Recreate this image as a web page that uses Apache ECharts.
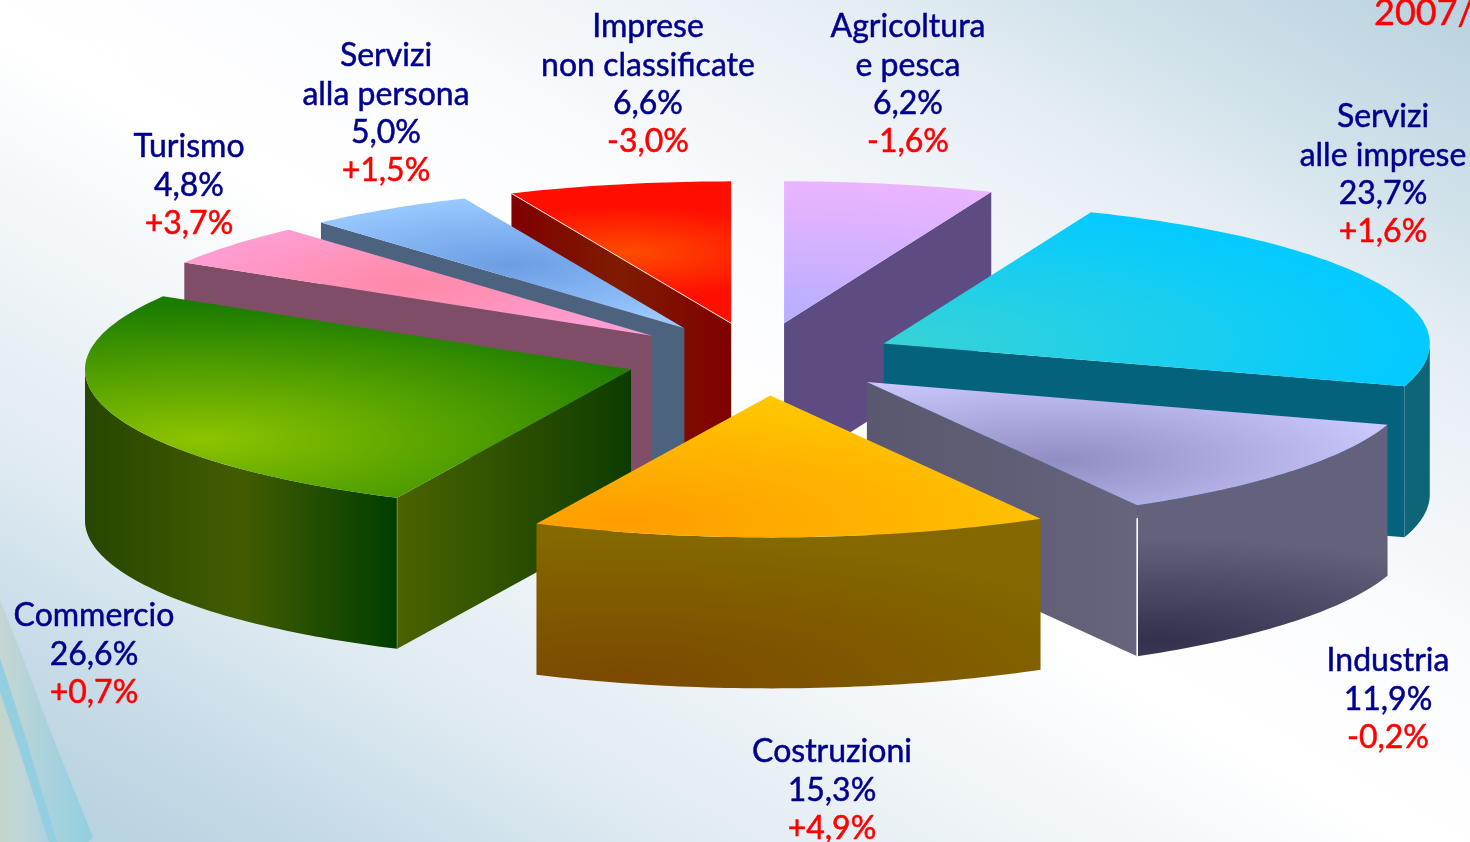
<!DOCTYPE html>
<html><head><meta charset="utf-8">
<style>html,body{margin:0;padding:0;background:#fff}#c{width:1470px;height:842px}</style>
<script src="https://cdn.jsdelivr.net/npm/echarts@6/dist/echarts.min.js"></script>
</head><body><div id="c"></div>
<script>
// ---- data ----
const sectors = ['Agricoltura\ne pesca','Servizi\nalle imprese','Industria','Costruzioni','Commercio','Turismo','Servizi\nalla persona','Imprese\nnon classificate'];
const shares  = [6.2,23.7,11.9,15.3,26.6,4.8,5.0,6.6];
const changes = ['-1,6%','+1,6%','-0,2%','+4,9%','+0,7%','+3,7%','+1,5%','-3,0%'];

// ---- layout ----
const FONT = 'Lato, "Open Sans", sans-serif';
const center = {x:760, y:359}, RX = 546, RY = 142, DEPTH = 151, EXPLODE = 0.2564, K = RY/RX;
const sliceNudgeX = [-3,-3,-2,5,5,0,0,0];
const labelAnchors = [[908,27],[1383,117],[1388,661],[832,752],[94,616],[189,147],[386,56],[648,27]];
const LINE = 38.3;

// ---- face styles ----
const topFaces = [
 {c:[0,0],R:1,stops:['#b6aeff','#ecb4ff']},
 {c:[0,0],R:.95,stops:['#38d3d6','#04cbff']},
 {c:[.35,.55],R:.62,stops:['#8f8dc2','#c9c7fc']},
 {c:[-.27,.88],R:.9,stops:['#ff9c00','#ffc800']},
 {c:[-.786,.49],R:.95,stops:['#8dc400','#1a7c00']},
 {c:[-.447,-.366],R:.4,stops:['#ff88a6','#ff9dd0']},
 {c:[-.32,-.45],R:.45,stops:['#6c9de3','#97c8ff']},
 {c:[-.19,-.5],R:.32,stops:['#ff4c00','#ff0f00']}
];
const flatWalls = ['#5c4c82','#04637c',['#5a586e','#66647e'],'#000',['#4b6300','#0d3c00'],'#804d66','#4c6380',['#800000','#7f1c00','#7f0000']];
const arcWalls = [null,'#0f6578',{c:[.537,1.82],R:.72,stops:['#32304c','#63617c']},{c:[-.27,2],R:1,stops:['#7b4900','#846800']},['#274600','#435c00','#003e00'],null,null,null];

// ---- geometry derived from the shares ----
const total = shares.reduce((a,b)=>a+b,0);
let run = 0;
const slices = shares.map((v,i)=>{
  const a0 = run/total*2*Math.PI; run += v;
  const a1 = run/total*2*Math.PI, mid=(a0+a1)/2;
  return {i,a0,a1,ax:center.x+sliceNudgeX[i]+RX*EXPLODE*Math.sin(mid),ay:center.y-RY*EXPLODE*Math.cos(mid)};
});
const drawOrder = slices.slice().sort((p,q)=>p.ay-q.ay).map(s=>s.i);

function fillOf(spec,s){
  if(typeof spec==='string') return {fill:spec,scale:false};
  if(Array.isArray(spec)){
    return {fill:new echarts.graphic.LinearGradient(0,0,1,0,spec.map((c,j)=>({offset:j/(spec.length-1),color:c}))),scale:false};
  }
  const cx=s.ax+spec.c[0]*RX, cy=(s.ay+spec.c[1]*RY)/K;
  return {fill:new echarts.graphic.RadialGradient(cx,cy,spec.R*RX,spec.stops.map((c,j)=>({offset:j/(spec.stops.length-1),color:c})),true),scale:true};
}
function poly(points,spec,s){
  const f=fillOf(spec,s);
  const pts=f.scale?points.map(p=>[p[0],p[1]/K]):points;
  const el={type:'polygon',shape:{points:pts},style:{fill:f.fill}};
  if(f.scale){el.scaleY=K;}
  return el;
}
function rim(s,a){return [s.ax+RX*Math.sin(a),s.ay-RY*Math.cos(a)];}
function arc(s,a0,a1){
  const n=Math.max(2,Math.ceil((a1-a0)/(Math.PI/180))),out=[];
  for(let j=0;j<=n;j++) out.push(rim(s,a0+(a1-a0)*j/n));
  return out;
}
function sliceItem(params,api){
  const s=slices[api.value(0)],i=s.i,kids=[];
  const apex=[s.ax,s.ay];
  const drop=p=>[p[0],p[1]+DEPTH];
  const wallOn=a=>{const p=rim(s,a);return [apex,p,drop(p),drop(apex)];};
  if(Math.sin(s.a1)>1e-6) kids.push(poly(wallOn(s.a1),flatWalls[i],s));
  if(Math.sin(s.a0)<-1e-6) kids.push(poly(wallOn(s.a0),flatWalls[i],s));
  const lo=Math.max(s.a0,Math.PI/2),hi=Math.min(s.a1,Math.PI*1.5);
  if(hi>lo&&arcWalls[i]){
    const top=arc(s,lo,hi);
    kids.push(poly(top.concat(top.slice().reverse().map(drop)),arcWalls[i],s));
  }
  kids.push(poly([apex].concat(arc(s,s.a0,s.a1)),topFaces[i],s));
  const corner=rim(s,s.a1);
  if(sectors[i]==='Industria'){
    kids.push({type:'line',shape:{x1:corner[0],y1:corner[1]+13,x2:corner[0],y2:corner[1]+DEPTH},style:{stroke:'#ffffff',lineWidth:1.6}});
  }
  if(sectors[i].startsWith('Imprese')){
    const e=rim(s,s.a0);
    kids.push({type:'line',shape:{x1:apex[0],y1:apex[1],x2:e[0],y2:e[1]},style:{stroke:'#ffe8e0',lineWidth:1}});
  }
  if(sectors[i]==='Commercio'){
    const e=rim(s,s.a0);
    kids.push({type:'line',shape:{x1:e[0],y1:e[1],x2:e[0],y2:e[1]+DEPTH},style:{stroke:'#6f8f40',lineWidth:1}});
  }
  return {type:'group',children:kids};
}
function labelItem(params,api){
  const i=api.value(0),[x,y0]=labelAnchors[i];
  const lines=sectors[i].split('\n').map(t=>[t,'#00008f']);
  lines.push([shares[i].toFixed(1).replace('.',',')+'%','#00008f']);
  lines.push([changes[i],'#ff0000']);
  return {type:'group',children:lines.map((l,j)=>({type:'text',x:x,y:y0+j*LINE,
    style:{text:l[0],fill:l[1],stroke:l[1],lineWidth:0.5,font:'32px '+FONT,textAlign:'center',textVerticalAlign:'middle'}}))};
}
const bg=new echarts.graphic.LinearGradient(372,1055,1098,-213,[
 {offset:0,color:'#b2cfde'},{offset:.12,color:'#c6dbe7'},{offset:.23,color:'#dfeaf1'},{offset:.48,color:'#ffffff'},
 {offset:.6,color:'#fbfcfe'},{offset:.78,color:'#e6eef4'},{offset:.88,color:'#cfe0e9'},{offset:1,color:'#b9d2df'}],true);
const chart=echarts.init(document.getElementById('c'),null,{renderer:'canvas'});
chart.setOption({
 animation:false,
 backgroundColor:bg,
 graphic:[
  {type:'polygon',silent:true,z:-5,shape:{points:[[0,600],[20,650],[50,730],[93,837],[88,842],[0,842]]},
   style:{fill:new echarts.graphic.LinearGradient(0,0,1,0,[{offset:0,color:'#c6d6d2'},{offset:.5,color:'#aad2dc'},{offset:1,color:'#91cfe0'}])}},
  {type:'polygon',silent:true,z:-4,shape:{points:[[0,692],[20,750],[48,842],[0,842]]},
   style:{fill:new echarts.graphic.LinearGradient(0,0,1,0,[{offset:0,color:'#c5d5cc'},{offset:.45,color:'#c0d6d8'},{offset:1,color:'#aed0e2'}])}},
  {type:'polygon',silent:true,z:-3,shape:{points:[[0,658],[25,735],[57,842],[49,842],[20,752],[0,692]]},style:{fill:'#93cfe0'}},
  {type:'text',silent:true,z:1,x:1374,y:13,style:{text:'2007/',fill:'#ff0000',stroke:'#ff0000',lineWidth:0.5,font:'36px '+FONT,textVerticalAlign:'middle'}},
  {type:'text',silent:true,z:1,x:74,y:55,style:{text:'50,1',fill:'rgba(255,255,255,0.9)',font:'30px '+FONT,textVerticalAlign:'middle'}}
 ],
 series:[
  {type:'custom',coordinateSystem:'none',silent:true,clip:false,renderItem:sliceItem,z:2,
   data:drawOrder.map(i=>[i,shares[i]])},
  {type:'custom',coordinateSystem:'none',silent:true,clip:false,renderItem:labelItem,z:3,
   data:shares.map((v,i)=>[i,v])}
 ]
});
</script></body></html>
